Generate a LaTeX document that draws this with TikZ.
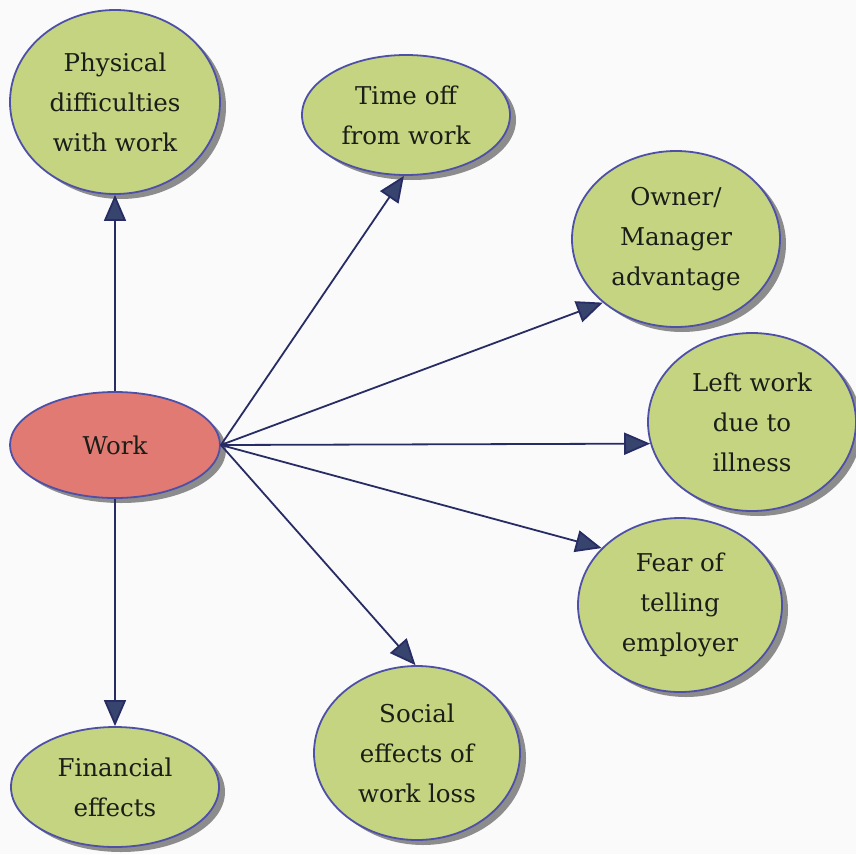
\documentclass[tikz,border=0pt]{standalone}
\usepackage{fontspec}
\setmainfont{DejaVu Serif}
\usetikzlibrary{shapes.geometric,arrows.meta,shadows}
\definecolor{bubblegreen}{RGB}{196,212,128}
\definecolor{workred}{RGB}{226,122,116}
\definecolor{rimblue}{RGB}{78,80,168}
\definecolor{linknavy}{RGB}{40,44,100}
\definecolor{tipslate}{RGB}{55,68,110}
\definecolor{shadegray}{RGB}{140,140,140}
\definecolor{textdark}{RGB}{25,30,25}
\definecolor{paper}{RGB}{250,250,250}
\tikzset{
  bubble/.style={ellipse, draw=rimblue, line width=1.8pt, fill=bubblegreen, inner sep=0pt,
    align=center, text=textdark, font=\fontsize{24.5}{40}\selectfont,
    general shadow={fill=shadegray, shadow xshift=6pt, shadow yshift=-5pt}},
  link/.style={draw=linknavy, line width=1.8pt,
    -{Triangle[length=26pt,width=22pt,fill=tipslate]}}
}
\begin{document}
\begin{tikzpicture}[x=1pt,y=-1pt]
\fill[paper] (0,0) rectangle (856,854);
\useasboundingbox (0,0) rectangle (856,854);
\node[bubble, minimum width=210pt, minimum height=184pt] (phys) at (115,102) {Physical\\difficulties\\with work};
\node[bubble, minimum width=208pt, minimum height=120pt] (time) at (406,115) {Time off\\from work};
\node[bubble, minimum width=208pt, minimum height=176pt] (owner) at (676,239) {Owner/\\Manager\\advantage};
\node[bubble, minimum width=208pt, minimum height=178pt] (left) at (752,422) {Left work\\due to\\illness};
\node[bubble, minimum width=204pt, minimum height=174pt] (fear) at (680,605) {Fear of\\telling\\employer};
\node[bubble, minimum width=206pt, minimum height=174pt] (social) at (417,753) {Social\\effects of\\work loss};
\node[bubble, minimum width=208pt, minimum height=120pt] (fin) at (115,787) {Financial\\effects};
\node[bubble, fill=workred, minimum width=210pt, minimum height=106pt] (work) at (115,445) {Work};
\draw[link] (work.north) -- (phys.south);
\draw[link] (work.south) -- (fin.north);
\draw[link] (work.east) -- (time.268);
\draw[link] (work.east) -- (owner.221);
\draw[link] (work.east) -- (left.192);
\draw[link] (work.east) -- (fear.144);
\draw[link] (work.east) -- (social.91);
\end{tikzpicture}
\end{document}
